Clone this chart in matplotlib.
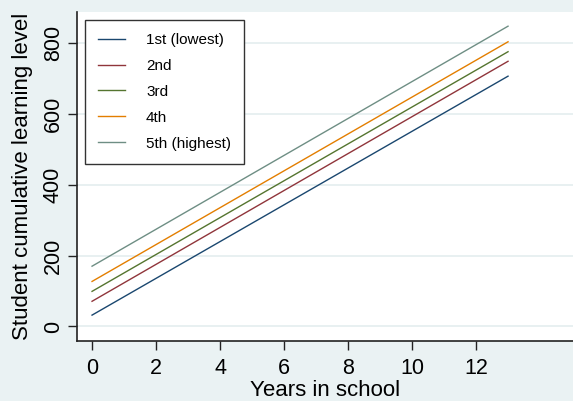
import matplotlib
matplotlib.use("Agg")
import matplotlib.pyplot as plt

plt.rcParams['font.family'] = ['Liberation Sans', 'DejaVu Sans']

years = [0, 13]
series_labels = ["1st (lowest)", "2nd", "3rd", "4th", "5th (highest)"]
q1 = [32, 706]
q2 = [71, 748]
q3 = [99, 775]
q4 = [127, 803]
q5 = [170, 847]
series_values = [q1, q2, q3, q4, q5]
colors = ["#1a476f", "#90353b", "#55752f", "#e37e00", "#6e8e84"]
yticks = [0, 200, 400, 600, 800]
xticks = [0, 2, 4, 6, 8, 10, 12]

bg = "#eaf2f3"
W, H = 573, 401
fig = plt.figure(figsize=(W / 100, H / 100), dpi=100, facecolor=bg)
ax = fig.add_axes([77 / W, (H - 341) / H, (W - 77) / W, (341 - 12) / H])
ax.set_facecolor("white")

for vals, lab, c in zip(series_values, series_labels, colors):
    ax.plot(years, vals, color=c, lw=1.0, label=lab)

ax.set_xlim(-0.47, 15.03)
ax.set_ylim(-41, 887)
ax.set_yticks(yticks)
ax.set_xticks(xticks)
ax.yaxis.grid(True, color="#e4edef", lw=1.2)
ax.set_axisbelow(True)

for s in ["top", "right"]:
    ax.spines[s].set_visible(False)
for s in ["left", "bottom"]:
    ax.spines[s].set_color("#222222")
    ax.spines[s].set_linewidth(1.2)

ax.tick_params(axis="both", direction="out", length=6.5, width=1.0,
               color="#222222", labelsize=15.5, labelcolor="black")
ax.tick_params(axis="x", pad=6)
ax.tick_params(axis="y", pad=3)
for t in ax.get_yticklabels():
    t.set_rotation(90)
    t.set_va("center")

ax.set_xlabel("Years in school", fontsize=16, labelpad=0.5)
ax.set_ylabel("Student cumulative learning level", fontsize=16, labelpad=7)

leg = ax.legend(loc="upper left", bbox_to_anchor=(85 / W, (H - 20) / H),
                bbox_transform=fig.transFigure, fontsize=11,
                frameon=True, fancybox=False, framealpha=1,
                handlelength=1.8, handletextpad=1.35, labelspacing=0.78,
                borderpad=0.85, borderaxespad=0)
leg.get_frame().set_edgecolor("#333333")
leg.get_frame().set_linewidth(1.0)

fig.savefig("out.png", dpi=100, facecolor=bg)
